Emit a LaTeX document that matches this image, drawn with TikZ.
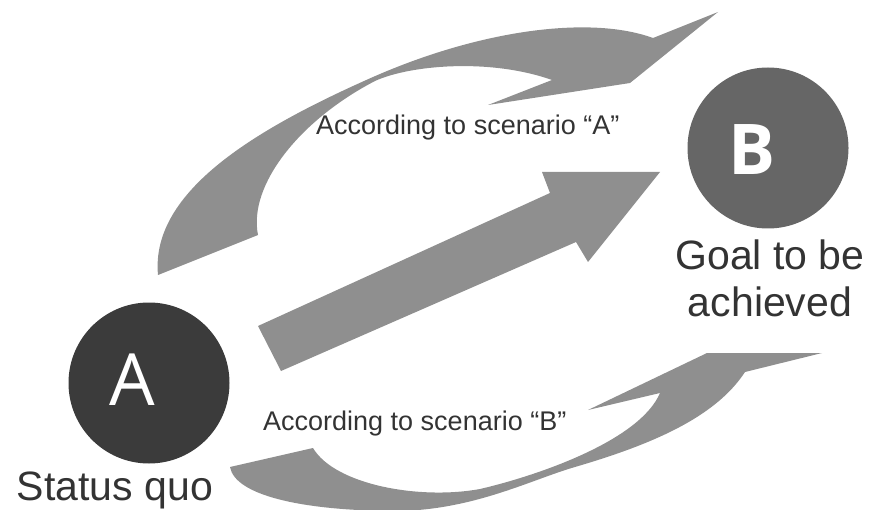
\documentclass[tikz,border=0pt]{standalone}
\usepackage{fontspec}
\setmainfont{Liberation Sans}
\newfontfamily\letterfont{Open Sans}
\usepackage{xcolor}
\usepackage{tikz}
\usetikzlibrary{positioning}

\definecolor{ribbongray}{HTML}{8F8F8F}
\definecolor{startgray}{HTML}{3B3B3B}
\definecolor{goalgray}{HTML}{666666}
\definecolor{labelgray}{HTML}{333333}

\begin{document}
\begin{tikzpicture}[x=1pt, y=-1pt,
stage/.style={circle, minimum size=161pt, inner sep=0pt},
letter/.style={text=white, inner sep=0pt, font=\letterfont\fontsize{72}{80}\selectfont},
bigcap/.style={text=labelgray, inner sep=0pt, align=center,
               font=\fontsize{41}{47}\selectfont},
scencap/.style={text=labelgray, inner sep=0pt, font=\fontsize{27}{32}\selectfont},
ribbon/.style={fill=ribbongray, draw=none}
]
\useasboundingbox (0,0) rectangle (869,510);

% straight arrow A -> B
\fill[ribbon] (258,326) -- (550,193) -- (542,172) -- (660,172)
  -- (588,262) -- (576,242) -- (281,371) -- cycle;

% upper curved arrow
\fill[ribbon] (158,275) -- (258,235)
  .. controls (248,185) and (300,120) .. (375,81)
  .. controls (410,65) and (490,58) .. (552,80)
  -- (488,105) -- (630,83) -- (718,12) -- (653,38)
  .. controls (590,15) and (480,30) .. (373,77)
  .. controls (260,127) and (150,190) .. (158,275) -- cycle;

% lower curved arrow
\fill[ribbon] (230,467) -- (313,448)
  .. controls (335,485) and (420,500) .. (480,489)
  .. controls (540,475) and (640,440) .. (660,393)
  -- (588,410) -- (707,353) -- (822,353) -- (745,372)
  .. controls (715,418) and (650,445) .. (575,467)
  .. controls (530,480) and (470,512) .. (390,511)
  .. controls (300,510) and (235,495) .. (230,467) -- cycle;

% the two states
\node[stage, fill=startgray] (statusA) at (149,383) {};
\node[letter] (letterA) at ([xshift=-17pt, yshift=3pt]statusA.center) {A};
\node[stage, fill=goalgray] (goalB) at (768,148) {};
\node[letter, font=\letterfont\bfseries\fontsize{70}{80}\selectfont] (letterB)
  at ([xshift=-16pt, yshift=-2pt]goalB.center) {B};

\node[bigcap, anchor=base] (statusLbl) at (115,500) {Status quo};
\node[bigcap, anchor=north] (goalLbl) at (770,240) {Goal to be\\achieved};

\node[scencap, anchor=base west] (scenA) at (316,135) {According to scenario “A”};
\node[scencap, anchor=base west] (scenB) at (263,430) {According to scenario “B”};
\end{tikzpicture}
\end{document}
